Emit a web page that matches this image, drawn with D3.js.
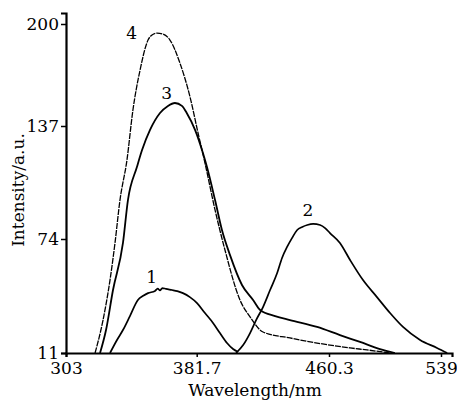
<!DOCTYPE html>
<html><head><meta charset="utf-8">
<script src="https://cdn.jsdelivr.net/npm/d3@7"></script>
<style>
html,body{margin:0;padding:0;background:#fff;}
svg{display:block;font-family:"DejaVu Serif",serif;}
</style></head>
<body><svg id="chart" width="457" height="403"></svg>
<script>
// Tick labels (the printed axis is not evenly spaced, so a polylinear scale is used)
const xTicks = [303, 381.7, 460.3, 539];
const yTicks = [11, 74, 137, 200];
const xEnd = 546.7;   // right end of the x axis line
const yEnd = 206.8;   // top end of the y axis line

// Curve 1
const wl1 = [329.5,333.7,337.3,341.5,346.3,349.5,352.4,356.6,358.2,359.6,361.0,363.2,366.8,370.0,373.4,377.6,381.9,386.6,391.4,395.5,399.7,403.3,406.3];
const in1 = [11,18.2,23.7,31.4,40.3,42.6,44.1,45.3,46.6,45.6,46.9,46.4,45.8,45.2,44.1,41.9,38.6,33.1,27.6,22.0,16.5,13.2,11.6];
// Curve 2
const wl2 = [405.1,409.3,413.4,417.0,421.1,425.3,429.5,432.4,435.4,438.4,441.4,444.4,447.4,450.9,455.0,458.0,461.0,468.0,475.1,484.2,494.0,503.2,512.3,524.3,536.2,543.3];
const in2 = [11,15.4,22.0,29.2,36.4,45.8,55.2,63.5,69.6,74.6,79.0,80.7,81.8,82.4,81.8,80.1,77.3,71.8,62.4,51.3,41.9,33.1,25.4,18.2,13.8,11];
// Curve 3
const wl3 = [323.5,327.1,331.3,337.3,340.3,345.7,348.8,353.6,359.6,364.4,368.6,372.8,375.7,380.7,385.4,387.8,392.6,396.7,401.5,408.6,415.2,419.4,428.3,437.1,453.2,468.0,482.1,496.1,506.6];
const in3 = [11,23.7,45.8,71.8,95.7,114.1,123.6,134.8,145.0,149.4,151.2,149.4,145.0,134.8,121.9,114.1,95.7,79.0,65.1,48.6,40.3,34.8,31.4,29.2,25.4,20.9,17.1,13.2,11];
// Curve 4
const wl4 = [320.5,325.3,329.5,332.5,335.5,339.7,343.3,347.6,352.4,354.8,357.8,361.4,365.6,371.6,377.7,382.5,386.6,392.6,398.5,407.4,413.4,421.1,437.1,453.2,475.1,487.0,503.2];
const in4 = [11,29.2,51.3,71.8,95.7,118.0,146.9,171.6,190.1,193.2,194.4,193.8,190.1,175.9,154.9,133.1,116.4,90.2,67.9,40.3,30.9,22.6,19.3,16.5,13.8,12.7,11];

const seriesNames = ["1","2","3","4"];
const labelWl = [354.6, 447.8, 363.6, 342.6];
const labelIn = [53.2, 90.2, 157.2, 194.3];

const svg = d3.select("#chart");
const x = d3.scaleLinear().domain([...xTicks, xEnd]).range([66, 196.7, 329, 441, 452]);
const y = d3.scaleLinear().domain([...yTicks, yEnd]).range([353, 239, 126, 24, 13]);

const series = [
  {wl: wl1, iv: in1, dash: null, w: 1.7},
  {wl: wl2, iv: in2, dash: null, w: 1.7},
  {wl: wl3, iv: in3, dash: null, w: 1.8},
  {wl: wl4, iv: in4, dash: "6,1", w: 1.3}
];
const line = d3.line().x(d => x(d[0])).y(d => y(d[1])).curve(d3.curveMonotoneX);
series.forEach(s => {
  svg.append("path")
    .attr("d", line(s.wl.map((v, i) => [v, s.iv[i]])))
    .attr("fill", "none").attr("stroke", "#000")
    .attr("stroke-width", s.w)
    .attr("stroke-linejoin", "round")
    .attr("stroke-dasharray", s.dash);
});

const gx = svg.append("g").attr("transform", `translate(0,${y(11)})`)
  .call(d3.axisBottom(x).tickValues(xTicks).tickFormat(d => String(d)).tickSizeOuter(0).tickSize(4).tickPadding(5));
const gy = svg.append("g").attr("transform", `translate(${x(303)},0)`)
  .call(d3.axisLeft(y).tickValues(yTicks).tickFormat(d => String(d)).tickSizeOuter(0).tickSize(5).tickPadding(2));
[gx, gy].forEach(g => {
  g.select(".domain").attr("stroke", "#000").attr("stroke-width", 2.2);
  g.selectAll(".tick line").attr("stroke", "#000").attr("stroke-width", 1.5);
  g.selectAll(".tick text").attr("fill", "#000").attr("font-size", 17).attr("font-family", "DejaVu Serif, serif");
});

svg.append("text").attr("x", 255).attr("y", 396).attr("text-anchor", "middle")
  .attr("font-size", 17).text("Wavelength/nm");
svg.append("text").attr("transform", "translate(24,190) rotate(-90)").attr("text-anchor", "middle")
  .attr("font-size", 17).text("Intensity/a.u.");

seriesNames.forEach((n, i) => {
  svg.append("text").attr("x", x(labelWl[i])).attr("y", y(labelIn[i]))
    .attr("text-anchor", "middle").attr("dominant-baseline", "central")
    .attr("font-size", 17).text(n);
});
</script></body></html>
